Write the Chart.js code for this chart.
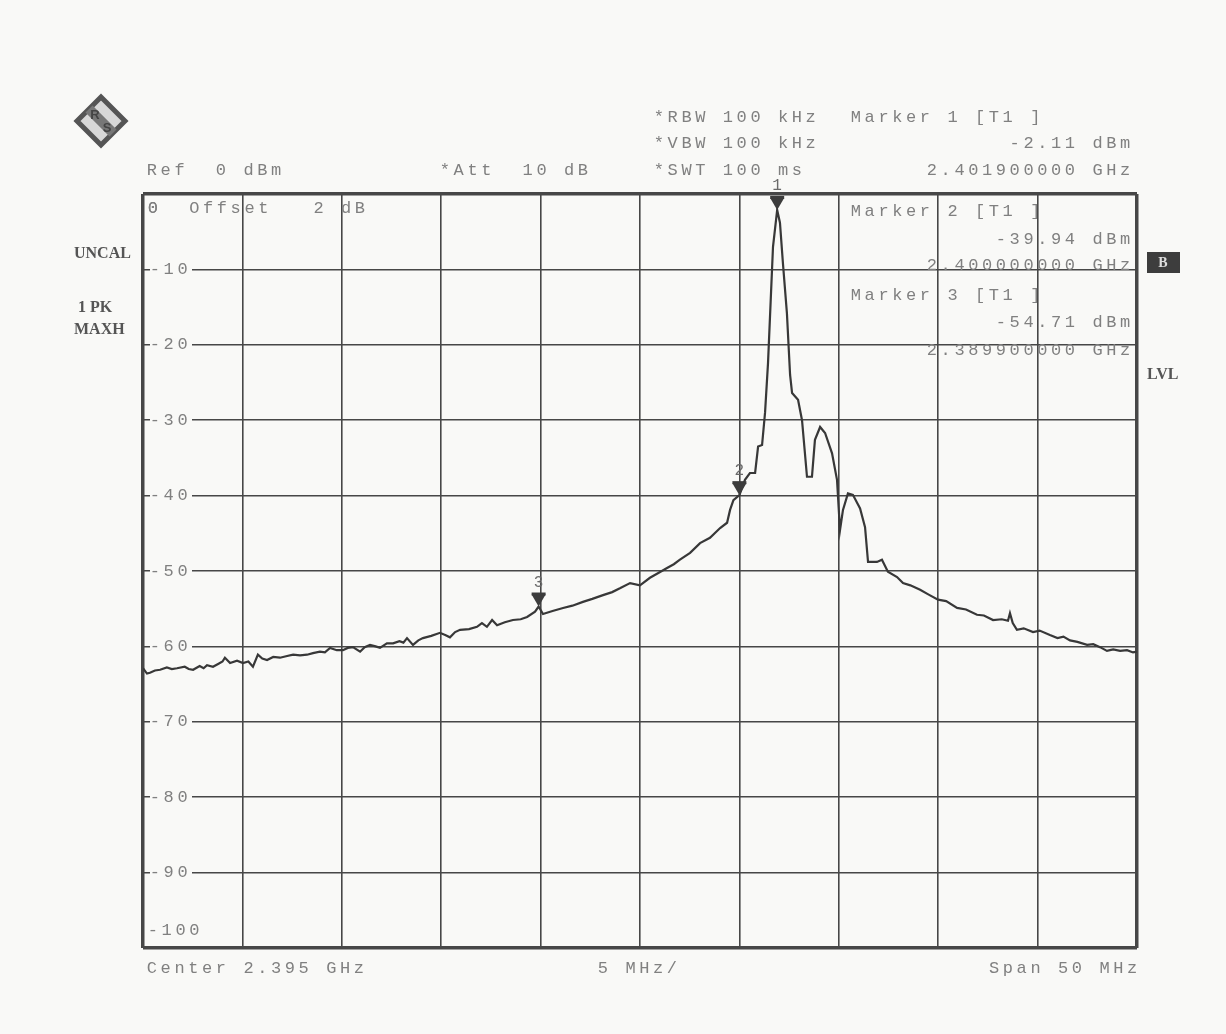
<!DOCTYPE html>
<html>
<head>
<meta charset="utf-8">
<script src="https://cdn.jsdelivr.net/npm/chart.js@4.4.1/dist/chart.umd.min.js"></script>
<style>
  html, body { margin: 0; padding: 0; background: #f9f9f7; }
  canvas { display: block; }
</style>
</head>
<body>
<canvas id="myChart" width="1226" height="1034"></canvas>
<script>
// trace (MHz, dBm)
var freqMHz = [
  2370.00, 2370.20, 2370.35, 2370.60, 2370.86, 2371.20, 2371.45, 2371.71, 2372.10, 2372.30,
  2372.52, 2372.85, 2373.05, 2373.22, 2373.52, 2373.80, 2374.00, 2374.12, 2374.38, 2374.73,
  2375.03, 2375.30, 2375.53, 2375.78, 2376.00, 2376.24, 2376.55, 2376.89, 2377.20, 2377.55,
  2377.90, 2378.25, 2378.55, 2378.90, 2379.15, 2379.41, 2379.75, 2380.06, 2380.30, 2380.56,
  2380.92, 2381.15, 2381.42, 2381.70, 2381.92, 2382.27, 2382.58, 2382.90, 2383.10, 2383.28,
  2383.58, 2383.85, 2384.08, 2384.50, 2384.94, 2385.20, 2385.44, 2385.70, 2385.95, 2386.40,
  2386.80, 2387.05, 2387.30, 2387.56, 2387.81, 2388.20, 2388.61, 2389.00, 2389.32, 2389.72,
  2389.90, 2390.12, 2390.60, 2391.13, 2391.60, 2392.13, 2392.60, 2393.14, 2393.60, 2393.99,
  2394.50, 2395.00, 2395.50, 2395.90, 2396.36, 2396.70, 2397.01, 2397.52, 2398.02, 2398.52,
  2399.03, 2399.38, 2399.53, 2399.70, 2400.00, 2400.28, 2400.53, 2400.79, 2400.94, 2401.14,
  2401.29, 2401.44, 2401.69, 2401.90, 2402.04, 2402.19, 2402.39, 2402.55, 2402.65, 2402.95,
  2403.15, 2403.40, 2403.65, 2403.80, 2404.06, 2404.31, 2404.66, 2404.91, 2405.06, 2405.21,
  2405.46, 2405.71, 2406.07, 2406.32, 2406.47, 2406.92, 2407.17, 2407.47, 2407.93, 2408.23,
  2408.60, 2409.09, 2409.50, 2409.99, 2410.40, 2410.95, 2411.40, 2411.95, 2412.30, 2412.76,
  2413.20, 2413.51, 2413.61, 2413.75, 2413.96, 2414.30, 2414.77, 2415.10, 2415.62, 2416.00,
  2416.30, 2416.63, 2417.00, 2417.49, 2417.80, 2418.14, 2418.49, 2418.80, 2419.15, 2419.50,
  2419.80, 2420.00
];
var levelDbm = [
  -62.9, -63.6, -63.5, -63.2, -63.1, -62.8, -63.0, -62.9, -62.7, -63.0,
  -63.1, -62.6, -62.9, -62.5, -62.7, -62.3, -62.0, -61.5, -62.2, -61.9,
  -62.2, -62.0, -62.7, -61.1, -61.6, -61.8, -61.4, -61.5, -61.3, -61.1,
  -61.2, -61.1, -60.9, -60.7, -60.8, -60.2, -60.5, -60.5, -60.2, -60.1,
  -60.7, -60.1, -59.8, -60.0, -60.2, -59.6, -59.6, -59.3, -59.5, -58.9,
  -59.8, -59.2, -58.9, -58.6, -58.2, -58.5, -58.8, -58.1, -57.8, -57.7,
  -57.4, -56.9, -57.4, -56.5, -57.2, -56.8, -56.5, -56.4, -56.1, -55.4,
  -54.71, -55.7, -55.3, -54.9, -54.6, -54.1, -53.7, -53.2, -52.8, -52.3,
  -51.6, -51.9, -50.9, -50.3, -49.6, -49.1, -48.5, -47.6, -46.3, -45.6,
  -44.3, -43.6, -41.9, -40.6, -39.94, -37.9, -37.0, -37.0, -33.5, -33.3,
  -29.0, -22.4, -7.0, -2.11, -3.8, -9.2, -15.8, -24.0, -26.4, -27.3,
  -30.0, -37.5, -37.5, -32.6, -30.9, -31.7, -34.4, -37.9, -44.6, -41.9,
  -39.7, -39.9, -41.7, -44.2, -48.8, -48.8, -48.5, -50.1, -50.8, -51.6,
  -51.9, -52.5, -53.1, -53.8, -54.0, -54.9, -55.1, -55.8, -55.9, -56.5,
  -56.4, -56.6, -55.6, -56.9, -57.8, -57.6, -58.1, -57.9, -58.5, -58.9,
  -58.7, -59.2, -59.4, -59.8, -59.7, -60.1, -60.6, -60.4, -60.6, -60.5,
  -60.8, -60.7
];

var markerFreq = [2401.9, 2400.0, 2389.9];
var markerLevel = [-2.11, -39.94, -54.71];
var yTicks = [0, -10, -20, -30, -40, -50, -60, -70, -80, -90, -100];

var textGray = '#808080';
var PITCH = 13.8;

// fixed pitch text, like the analyser's printout
function mono(c, text, x, y, right) {
    if (right) x = x - text.length * PITCH;
    for (var i = 0; i < text.length; i++) {
        c.fillText(text[i], x + i * PITCH + PITCH / 2, y);
    }
}

function drawLogo(c, cx, cy, r) {
    c.save();
    c.beginPath();
    c.moveTo(cx, cy - r); c.lineTo(cx + r, cy); c.lineTo(cx, cy + r); c.lineTo(cx - r, cy); c.closePath();
    c.fillStyle = '#d8d8d8'; c.fill();
    c.lineWidth = 5; c.strokeStyle = '#555'; c.stroke();
    c.beginPath();
    c.moveTo(cx - r / 2, cy - r / 2); c.lineTo(cx + r / 2, cy + r / 2);
    c.lineWidth = 10; c.strokeStyle = '#777'; c.stroke();
    c.fillStyle = '#444';
    c.font = 'bold 13px "Liberation Sans"';
    c.textAlign = 'center'; c.textBaseline = 'middle';
    c.fillText('R', cx - 6, cy - 6);
    c.fillText('S', cx + 6, cy + 7);
    c.restore();
}

var analyserText = {
    id: 'analyserText',
    beforeDatasetsDraw: function (chart) {
        var c = chart.ctx, ys = chart.scales.y;
        c.save();
        c.font = '17px "Liberation Mono"';
        c.textAlign = 'center';
        c.textBaseline = 'middle';
        yTicks.forEach(function (t) {
            var py = ys.getPixelForValue(t);
            var s = String(t);
            c.fillStyle = textGray;
            if (t === 0) {
                mono(c, s, 146, py + 14);
            } else if (t === -100) {
                mono(c, s, 146, py - 18);
            } else {
                c.fillStyle = '#f9f9f7';
                c.fillRect(150, py - 7, 42, 14);
                c.fillStyle = textGray;
                mono(c, s, 148, py);
            }
        });
        c.restore();
    },
    afterDatasetsDraw: function (chart) {
        var c = chart.ctx, xs = chart.scales.x, ys = chart.scales.y;
        c.save();
        // marker symbols
        markerFreq.forEach(function (f, i) {
            var px = xs.getPixelForValue(f), py = ys.getPixelForValue(markerLevel[i]);
            c.fillStyle = '#3c3c3c';
            c.beginPath();
            c.moveTo(px - 7, py - 12); c.lineTo(px + 7, py - 12); c.lineTo(px, py); c.closePath();
            c.fill();
            c.fillRect(px - 7, py - 14, 14, 3);
            c.font = '16px "Liberation Mono"';
            c.textAlign = 'center'; c.textBaseline = 'middle';
            c.fillStyle = '#6a6a6a';
            c.fillText(String(i + 1), px, py - 24);
        });

        c.font = '17px "Liberation Mono"';
        c.textAlign = 'center';
        c.textBaseline = 'middle';
        c.fillStyle = textGray;
        mono(c, 'Ref  0 dBm', 145, 170);
        mono(c, '*Att  10 dB', 438, 170);
        mono(c, '*RBW 100 kHz', 652, 117);
        mono(c, '*VBW 100 kHz', 652, 143);
        mono(c, '*SWT 100 ms', 652, 170);
        mono(c, '0  Offset   2 dB', 146, 208);

        var rows = [[117, 143, 170], [211, 239, 265], [295, 322, 350]];
        markerFreq.forEach(function (f, i) {
            mono(c, 'Marker ' + (i + 1) + ' [T1 ]', 849, rows[i][0]);
            mono(c, markerLevel[i].toFixed(2) + ' dBm', 1132, rows[i][1], true);
            mono(c, (f / 1000).toFixed(9) + ' GHz', 1132, rows[i][2], true);
        });

        mono(c, 'Center 2.395 GHz', 145, 968);
        mono(c, '5 MHz/', 596, 968);
        mono(c, 'Span 50 MHz', 1139, 968, true);

        // side annotations
        c.font = 'bold 16px "Liberation Serif"';
        c.fillStyle = '#555555';
        c.textAlign = 'left';
        c.fillText('UNCAL', 74, 254);
        c.fillText('1 PK', 78, 308);
        c.fillText('MAXH', 74, 330);
        c.fillText('LVL', 1147, 375);
        c.fillStyle = '#3d3d3d';
        c.fillRect(1147, 252, 33, 21);
        c.fillStyle = '#dddddd';
        c.textAlign = 'center';
        c.font = 'bold 14px "Liberation Serif"';
        c.fillText('B', 1163, 263);

        drawLogo(c, 101, 121, 24);
        c.restore();
    }
};

var ctx = document.getElementById('myChart').getContext('2d');

var myChart = new Chart(ctx, {
    type: 'line',
    data: {
        datasets: [{
            label: 'Trace 1',
            data: freqMHz.map(function (f, i) { return { x: f, y: levelDbm[i] }; }),
            borderColor: '#383838',
            borderWidth: 2.2,
            pointRadius: 0,
            tension: 0,
            fill: false
        }]
    },
    options: {
        responsive: false,
        animation: false,
        layout: { padding: { left: 143, top: 194, right: 89, bottom: 86 } },
        plugins: {
            legend: { display: false },
            tooltip: { enabled: false }
        },
        scales: {
            x: {
                type: 'linear',
                min: 2370,
                max: 2420,
                ticks: { display: false, stepSize: 5 },
                grid: {
                    color: '#474747',
                    lineWidth: function (c) { return (c.index === 0 || c.index === 10) ? 3.5 : 1.6; },
                    drawTicks: false
                },
                border: { display: false },
                afterFit: function (s) { s.height = 0; }
            },
            y: {
                min: -100,
                max: 0,
                ticks: { display: false, stepSize: 10 },
                grid: {
                    color: '#474747',
                    lineWidth: function (c) { return (c.index === 0 || c.index === 10) ? 3.5 : 1.6; },
                    drawTicks: false
                },
                border: { display: false },
                afterFit: function (s) { s.width = 0; }
            }
        }
    },
    plugins: [analyserText]
});
</script>
</body>
</html>
